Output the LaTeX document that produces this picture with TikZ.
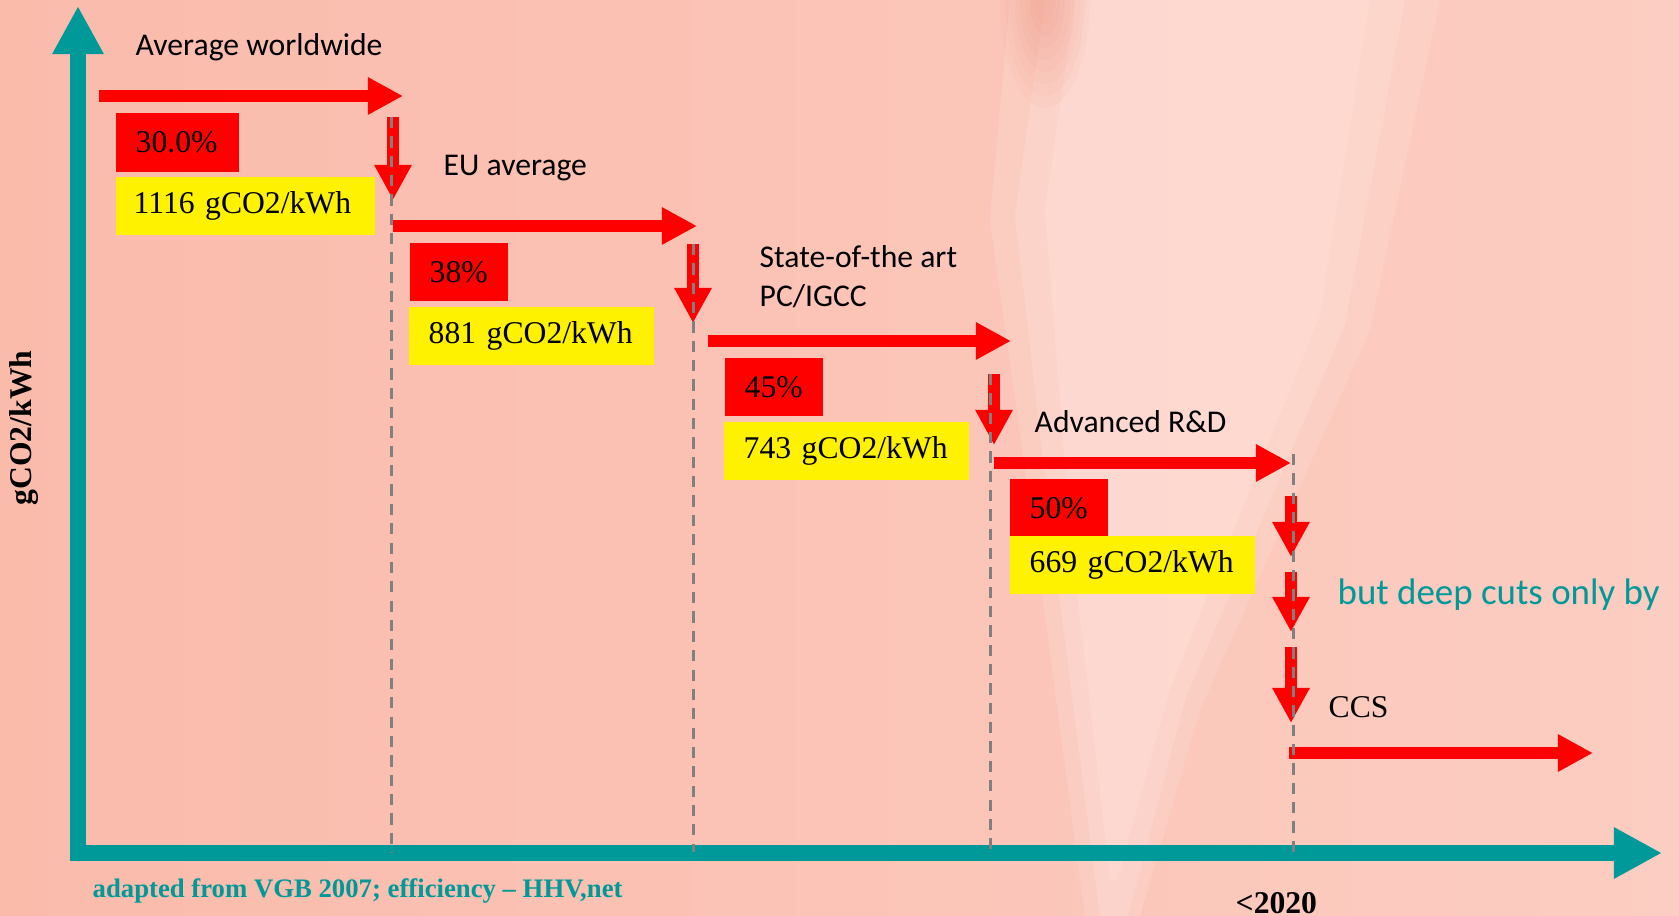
\documentclass[tikz,border=0pt]{standalone}
\usepackage{fontspec}
\setmainfont{Liberation Serif}
\newfontfamily\calibri{Carlito}
\usetikzlibrary{arrows.meta}

\definecolor{salmon}{RGB}{250,187,171}
\definecolor{salmonright}{RGB}{252,205,194}
\definecolor{salmonlight}{RGB}{254,222,214}
\definecolor{smudge}{RGB}{238,138,118}
\definecolor{axisteal}{RGB}{0,153,153}
\definecolor{guidegray}{RGB}{128,128,128}

\tikzset{
  axis/.style={axisteal, line width=4.55pt, -{Triangle[length=13.7pt,width=13.7pt]}},
  redarrow/.style={red, line width=3.4pt, -{Triangle[length=10pt,width=10pt]}},
  guide/.style={guidegray, line width=0.85pt, dash pattern=on 3.2pt off 2.3pt},
  pct/.style={fill=red, anchor=north west, minimum height=0.58cm, inner ysep=0pt,
    inner xsep=0.2cm, align=left, text width=0.58cm, font=\fontsize{9}{10}\selectfont},
  emis/.style={pct, fill=yellow, text width=2.05cm},
  stage/.style={anchor=base west, inner sep=0pt, font=\calibri\fontsize{9}{10}\selectfont},
}

\begin{document}
\begin{tikzpicture}[x=0.01cm, y=-0.01cm]

    % Background
    \useasboundingbox (0,0) rectangle (1679,916);
    \shade[left color=salmon, right color=salmonright] (0,0) rectangle (1679,916);
    \fill[salmonlight, opacity=0.3] (1010,0) -- (1440,0) -- (1370,330) -- (1200,710)
        -- (1140,916) -- (1085,916) -- (1035,540) -- (990,220) -- cycle;
    \fill[salmonlight, opacity=0.4] (1045,0) -- (1405,0) -- (1345,325) -- (1185,700)
        -- (1128,916) -- (1100,916) -- (1052,538) -- (1015,216) -- cycle;
    \fill[salmonlight, opacity=0.5] (1075,0) -- (1370,0) -- (1320,315) -- (1170,690)
        -- (1117,880) -- (1110,880) -- (1070,530) -- (1045,210) -- cycle;
    \foreach \k in {1,...,8}
        \fill[smudge, opacity=0.06] (1045,0) ellipse [x radius=50-5*\k, y radius=120-12*\k];

    % Axes
    \coordinate (o) at (78,853);
    \coordinate (ytop) at (78,6);
    \coordinate (xend) at (1662,853);
    \draw[axis] (78,861) -- (ytop);
    \draw[axis] (70,853) -- (xend);

    % Steps
    \coordinate (h1s) at (99,96);    \coordinate (h1e) at (403,96);
    \coordinate (d1s) at (393,117);  \coordinate (d1e) at (393,200);
    \coordinate (h2s) at (393,226);  \coordinate (h2e) at (697,226);
    \coordinate (d2s) at (693,244);  \coordinate (d2e) at (693,323);
    \coordinate (h3s) at (708,341);  \coordinate (h3e) at (1011,341);
    \coordinate (d3s) at (994,374);  \coordinate (d3e) at (994,445);
    \coordinate (h4s) at (994,463);  \coordinate (h4e) at (1291,463);
    \coordinate (h5s) at (1289,753); \coordinate (h5e) at (1593,753);

    \draw[redarrow] (h1s) -- (h1e);
    \draw[redarrow] (d1s) -- (d1e);
    \draw[redarrow] (h2s) -- (h2e);
    \draw[redarrow] (d2s) -- (d2e);
    \draw[redarrow] (h3s) -- (h3e);
    \draw[redarrow] (d3s) -- (d3e);
    \draw[redarrow] (h4s) -- (h4e);
    \draw[redarrow] (h5s) -- (h5e);

    % CCS drops
    \foreach \i/\a/\b in {1/496/557, 2/572/632, 3/647/723} {
        \coordinate (c\i s) at (1291,\a);
        \coordinate (c\i e) at (1291,\b);
        \draw[redarrow] (c\i s) -- (c\i e);
    }

    % Guides down to the time axis
    \foreach \i/\x/\y in {1/391/117, 2/693/244, 3/990/374, 4/1293/454} {
        \coordinate (g\i) at (\x,\y);
        \coordinate (t\i) at (\x,852);
        \draw[guide] (g\i) -- (t\i);
    }

    % Efficiency and emissions
    \node[pct, text width=0.83cm, minimum height=0.59cm] (p1) at (115,112) {30.0\%};
    \node[emis, text width=2.23cm, inner xsep=0.18cm] (e1) at (115,176) {1116 gCO2/kWh};
    \node[pct] (p2) at (409,242) {38\%};
    \node[emis] (e2) at (408,306) {881 gCO2/kWh};
    \node[pct] (p3) at (724,357) {45\%};
    \node[emis] (e3) at (723,421) {743 gCO2/kWh};
    \node[pct] (p4) at (1009,478) {50\%};
    \node[emis] (e4) at (1009,535) {669 gCO2/kWh};

    % Stage names
    \node[stage] (world) at (135,56) {Average worldwide};
    \node[stage] (eu) at (443,176) {EU average};
    \node[stage] (sota) at (759,268) {State-of-the art};
    \node[stage] (pc) at (759,307) {PC/IGCC};
    \node[stage] (adv) at (1034,433) {Advanced R\&D};
    \node[stage, axisteal, font=\calibri\fontsize{10.5}{12}\selectfont] (cuts) at (1337,604) {but deep cuts only by};
    \node[stage, font=\fontsize{9}{10}\selectfont] (ccs) at (1328,717) {CCS};

    % Axis texts
    \node[rotate=90, inner sep=0pt, font=\bfseries\fontsize{9}{10}\selectfont] (ylab) at (24,428) {gCO2/kWh};
    \node[stage, font=\bfseries\fontsize{9}{10}\selectfont] (year) at (1235,913) {<2020};
    \node[stage, axisteal, font=\bfseries\fontsize{7.6}{9}\selectfont] (src) at (92,897) {adapted from VGB 2007; efficiency -- HHV,net};

\end{tikzpicture}
\end{document}
